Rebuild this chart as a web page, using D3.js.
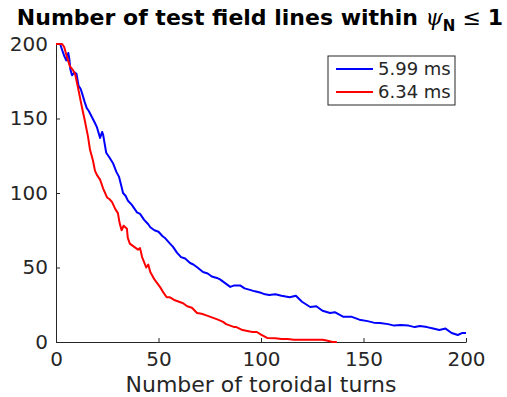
<!DOCTYPE html>
<html>
<head>
<meta charset="utf-8">
<script src="https://cdn.jsdelivr.net/npm/d3@7"></script>
<style>
  body { margin: 0; background: #fff; }
  svg { font-family: "DejaVu Sans", sans-serif; }
  .axis path, .axis line { stroke: #262626; }
  .axis text { fill: #262626; }
</style>
</head>
<body>
<svg width="507" height="397"></svg>
<script>
// turns, number of field lines still inside psi_N <= 1
var turnsBlue = [0, 2, 3, 4, 5, 6, 6.5, 7, 7.8, 9, 10, 11, 12, 12.7, 14, 15, 16, 17.5, 19, 20, 21.5, 22.5, 23, 24, 24.5, 26, 27.8, 29.5, 30.7, 32, 32.7, 34, 35, 37, 39.5, 41, 43, 45, 46, 48, 50, 52, 53, 55.6, 57, 59, 61, 63, 65.4, 67, 69, 71.7, 74, 76, 78.5, 80, 82, 85, 87, 89.8, 92, 94.6, 97, 100, 102, 104, 107, 110, 114, 117, 120, 124, 127, 130, 133.7, 136, 140, 144, 148, 152, 155, 158, 162, 165, 168, 172, 175, 177.5, 181, 184, 187, 190, 193, 196, 198, 200];
var countBlue = [200, 200, 196, 192, 189, 194, 190, 183, 179, 181, 180, 172, 170, 167, 161, 157, 155, 151, 147, 144, 137, 141, 139, 131, 127, 124, 120, 114, 111, 104, 100, 98, 95, 92, 87, 86, 82, 79, 77, 75, 74, 71, 70, 66, 64, 60, 57, 56, 53, 52, 50, 47, 46, 44, 43, 42, 40, 37, 38, 38, 36, 35, 34, 33, 32, 31.5, 32, 31, 30, 31, 27, 23.5, 24, 21, 19.5, 20, 17, 17, 15, 14, 13, 12.7, 12, 11, 11.4, 11, 10, 10.7, 10, 9, 8, 9, 6, 4.7, 6, 6];

var turnsRed = [0, 3, 4, 5.4, 6.8, 8, 9.3, 10.7, 12, 13.2, 14, 15, 15.6, 16.6, 18, 19, 20, 21.5, 23, 24.9, 26, 27.3, 29, 30.2, 31, 32, 33, 34.6, 35, 36, 38, 40, 41, 42, 44, 45, 46, 48, 50.7, 52, 54, 55.6, 58, 60, 62, 64, 66.3, 68.8, 71, 73, 75, 77, 79, 81.5, 83, 85, 87, 88, 91, 94.6, 96, 98, 100, 103, 107, 110, 113, 116, 120, 125, 130, 132, 135, 137];
var countRed = [200, 200, 198, 191, 185, 183, 180, 171, 162, 154, 149, 142, 138, 129, 122, 115, 112, 109, 103, 97, 96, 94, 89, 86.5, 80, 75, 78, 76, 70, 66, 64, 62, 63, 57, 50, 52, 47, 42, 37, 34, 30, 30, 28, 27, 26, 24, 23, 19.5, 19, 18, 17, 16, 15, 13.5, 12, 11, 10, 10, 8, 7, 6.7, 6.7, 5, 2.7, 2.5, 2, 2, 1.5, 1.5, 1.5, 1.5, 1, 0, 0];

var seriesNames = ['5.99 ms', '6.34 ms'];
var seriesColors = ['#0000ff', '#ff0000'];
var xTicks = [0, 50, 100, 150, 200];
var yTicks = [0, 50, 100, 150, 200];

var svg = d3.select('svg');
var margin = {top: 44, right: 41, bottom: 55, left: 56};
var width = 507 - margin.left - margin.right;
var height = 397 - margin.top - margin.bottom;

var g = svg.append('g')
    .attr('transform', 'translate(' + margin.left + ',' + margin.top + ')');

var x = d3.scaleLinear().domain([0, 200]).range([0, width]);
var y = d3.scaleLinear().domain([0, 200]).range([height, 0]);

// MATLAB style axes: ticks point inward
g.append('g')
    .attr('class', 'axis x')
    .attr('transform', 'translate(0,' + height + ')')
    .call(d3.axisBottom(x).tickValues(xTicks).tickSizeInner(-4).tickSizeOuter(0).tickPadding(10))
    .call(function(a) { a.selectAll('text').attr('font-size', 20).attr('font-family', 'DejaVu Sans'); });

g.append('g')
    .attr('class', 'axis y')
    .call(d3.axisLeft(y).tickValues(yTicks).tickSizeInner(-4).tickSizeOuter(0).tickPadding(8))
    .call(function(a) { a.selectAll('text').attr('font-size', 20).attr('font-family', 'DejaVu Sans'); });

var series = [
    d3.zip(turnsBlue, countBlue),
    d3.zip(turnsRed, countRed)
];

var line = d3.line()
    .x(function(d) { return x(d[0]); })
    .y(function(d) { return y(d[1]); });

g.selectAll('.curve')
    .data(series)
    .enter().append('path')
    .attr('class', 'curve')
    .attr('fill', 'none')
    .attr('stroke', function(d, i) { return seriesColors[i]; })
    .attr('stroke-width', 2)
    .attr('stroke-linejoin', 'round')
    .attr('d', line);

// x label
g.append('text')
    .attr('x', width / 2)
    .attr('y', height + 50)
    .attr('text-anchor', 'middle')
    .attr('font-size', 22)
    .attr('fill', '#262626')
    .text('Number of toroidal turns');

// title
var title = svg.append('text')
    .attr('x', 260)
    .attr('y', 25)
    .attr('text-anchor', 'middle')
    .attr('font-size', 22)
    .attr('font-weight', 'bold')
    .attr('fill', '#000');
title.append('tspan').text('Number of test field lines within ');
title.append('tspan').attr('font-family', 'DejaVu Serif').attr('font-style', 'italic').attr('font-weight', 'normal').text('\u03c8');
title.append('tspan').attr('font-size', 15).attr('dy', 6).text('N');
title.append('tspan').attr('dy', -6).attr('font-weight', 'normal').text(' \u2264 ');
title.append('tspan').text('1');

// legend
var legend = svg.append('g').attr('transform', 'translate(328,56)');
legend.append('rect')
    .attr('width', 127).attr('height', 49)
    .attr('fill', '#fff').attr('stroke', '#262626').attr('stroke-width', 1);
var items = legend.selectAll('.item')
    .data(seriesNames)
    .enter().append('g')
    .attr('class', 'item')
    .attr('transform', function(d, i) { return 'translate(0,' + (13 + i * 23) + ')'; });
items.append('line')
    .attr('x1', 8).attr('x2', 45)
    .attr('stroke', function(d, i) { return seriesColors[i]; })
    .attr('stroke-width', 2);
items.append('text')
    .attr('x', 50).attr('dy', '0.35em')
    .attr('font-size', 18)
    .attr('fill', '#262626')
    .text(function(d) { return d; });
</script>
</body>
</html>
